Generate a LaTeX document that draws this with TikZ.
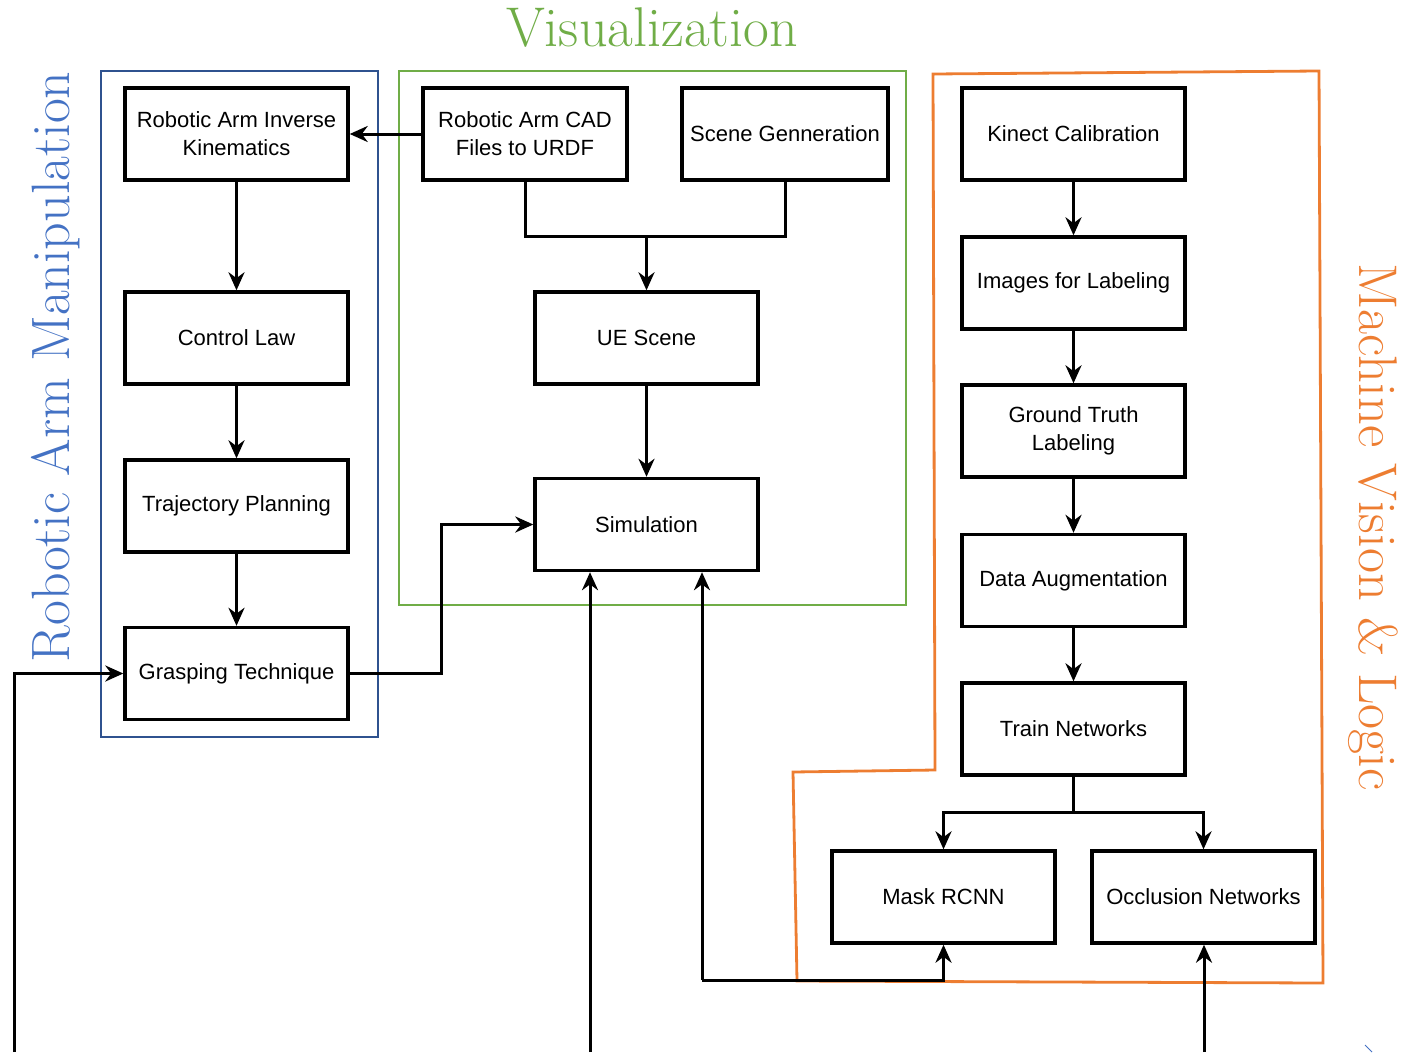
\documentclass[tikz,border=0pt]{standalone}
\usepackage{fontspec}
\setsansfont{Liberation Sans}
\usetikzlibrary{arrows.meta}
\definecolor{frameblue}{HTML}{2F528F}
\definecolor{textblue}{HTML}{4472C4}
\definecolor{vizgreen}{HTML}{70AD47}
\definecolor{mvorange}{HTML}{ED7D31}
\tikzset{
  blk/.style={draw=black, line width=3.4pt, fill=white, minimum width=223pt, minimum height=92pt,
    align=center, font=\sffamily\fontsize{22}{28}\selectfont, inner sep=2pt},
  link/.style={draw=black, line width=3pt, -{Stealth[length=18pt,width=16pt]}},
  plain/.style={draw=black, line width=3pt},
  title/.style={font=\fontsize{54}{54}\selectfont}
}
\begin{document}
\begin{tikzpicture}[x=1pt,y=-1pt]
\useasboundingbox (0,0) rectangle (1412,1052);
% group frames
\draw[frameblue, line width=2.8pt] (101,71) rectangle (378,737);
\draw[vizgreen, line width=2.6pt] (399,71) rectangle (906,605);
\draw[mvorange, line width=2.8pt] (933,74) -- (1319,71) -- (1323,983) -- (797,981) -- (793,772) -- (935,770) -- cycle;
% group titles
\node[title, text=vizgreen, font=\fontsize{56}{56}\selectfont] (tviz) at (652,28) {Visualization};
\node[title, text=textblue, rotate=90] (tram) at (56,367) {Robotic Arm Manipulation};
\node[title, text=mvorange, font=\fontsize{54.5}{54.5}\selectfont, rotate=-90] (tmvl) at (1373,527) {Machine Vision \& Logic};
% robotic arm manipulation
\node[blk] (ik) at (236.5,134) {Robotic Arm Inverse\\Kinematics};
\node[blk] (cl) at (236.5,338) {Control Law};
\node[blk] (tp) at (236.5,506) {Trajectory Planning};
\node[blk] (gt) at (236.5,673.5) {Grasping Technique};
% visualization
\node[blk, minimum width=204pt] (cad) at (525,134) {Robotic Arm CAD\\Files to URDF};
\node[blk, minimum width=206pt] (sg) at (785,134) {Scene Genneration};
\node[blk] (ue) at (646.5,338) {UE Scene};
\node[blk] (sim) at (646.5,524.5) {Simulation};
% machine vision
\node[blk] (kc) at (1073.5,134) {Kinect Calibration};
\node[blk] (il) at (1073.5,283) {Images for Labeling};
\node[blk] (gl) at (1073.5,431) {Ground Truth\\Labeling};
\node[blk] (da) at (1073.5,580.5) {Data Augmentation};
\node[blk] (tn) at (1073.5,729) {Train Networks};
\node[blk] (mr) at (943.5,897) {Mask RCNN};
\node[blk] (on) at (1203.5,897) {Occlusion Networks};
% free ends and junctions
\coordinate (inL) at (14,1052);
\coordinate (inS) at (590,1052);
\coordinate (inO) at (1204,1052);
\coordinate (vj) at (646.5,236);
\coordinate (tj) at (1073.5,812);
\coordinate (sr) at (702,980);
\coordinate (gs) at (441,673.5);
% connectors
\draw[link] (cad.west) -- (ik.east);
\draw[link] (ik) -- (cl);
\draw[link] (cl) -- (tp);
\draw[link] (tp) -- (gt);
\draw[link] (gt.east) -- (gs) |- (sim.west);
\draw[plain] (cad.south) |- (vj);
\draw[plain] (sg.south) |- (vj);
\draw[link] (vj) -- (ue.north);
\draw[link] (ue) -- (sim);
\draw[link] (kc) -- (il);
\draw[link] (il) -- (gl);
\draw[link] (gl) -- (da);
\draw[link] (da) -- (tn);
\draw[plain] (tn.south) -- (tj);
\draw[link] (tj) -| (mr.north);
\draw[link] (tj) -| (on.north);
\draw[link] (inS) -- (sim.south -| inS);
\draw[link] (sr) -- (sim.south -| sr);
\draw[link] (sr) -| (mr.south);
\draw[link] (inO) -- (on.south -| inO);
\draw[link] (inL) |- (gt.west);
% small stroke at the lower right edge
\draw[textblue, line width=1pt] (1365,1045) -- (1372,1052);
\end{tikzpicture}
\end{document}
